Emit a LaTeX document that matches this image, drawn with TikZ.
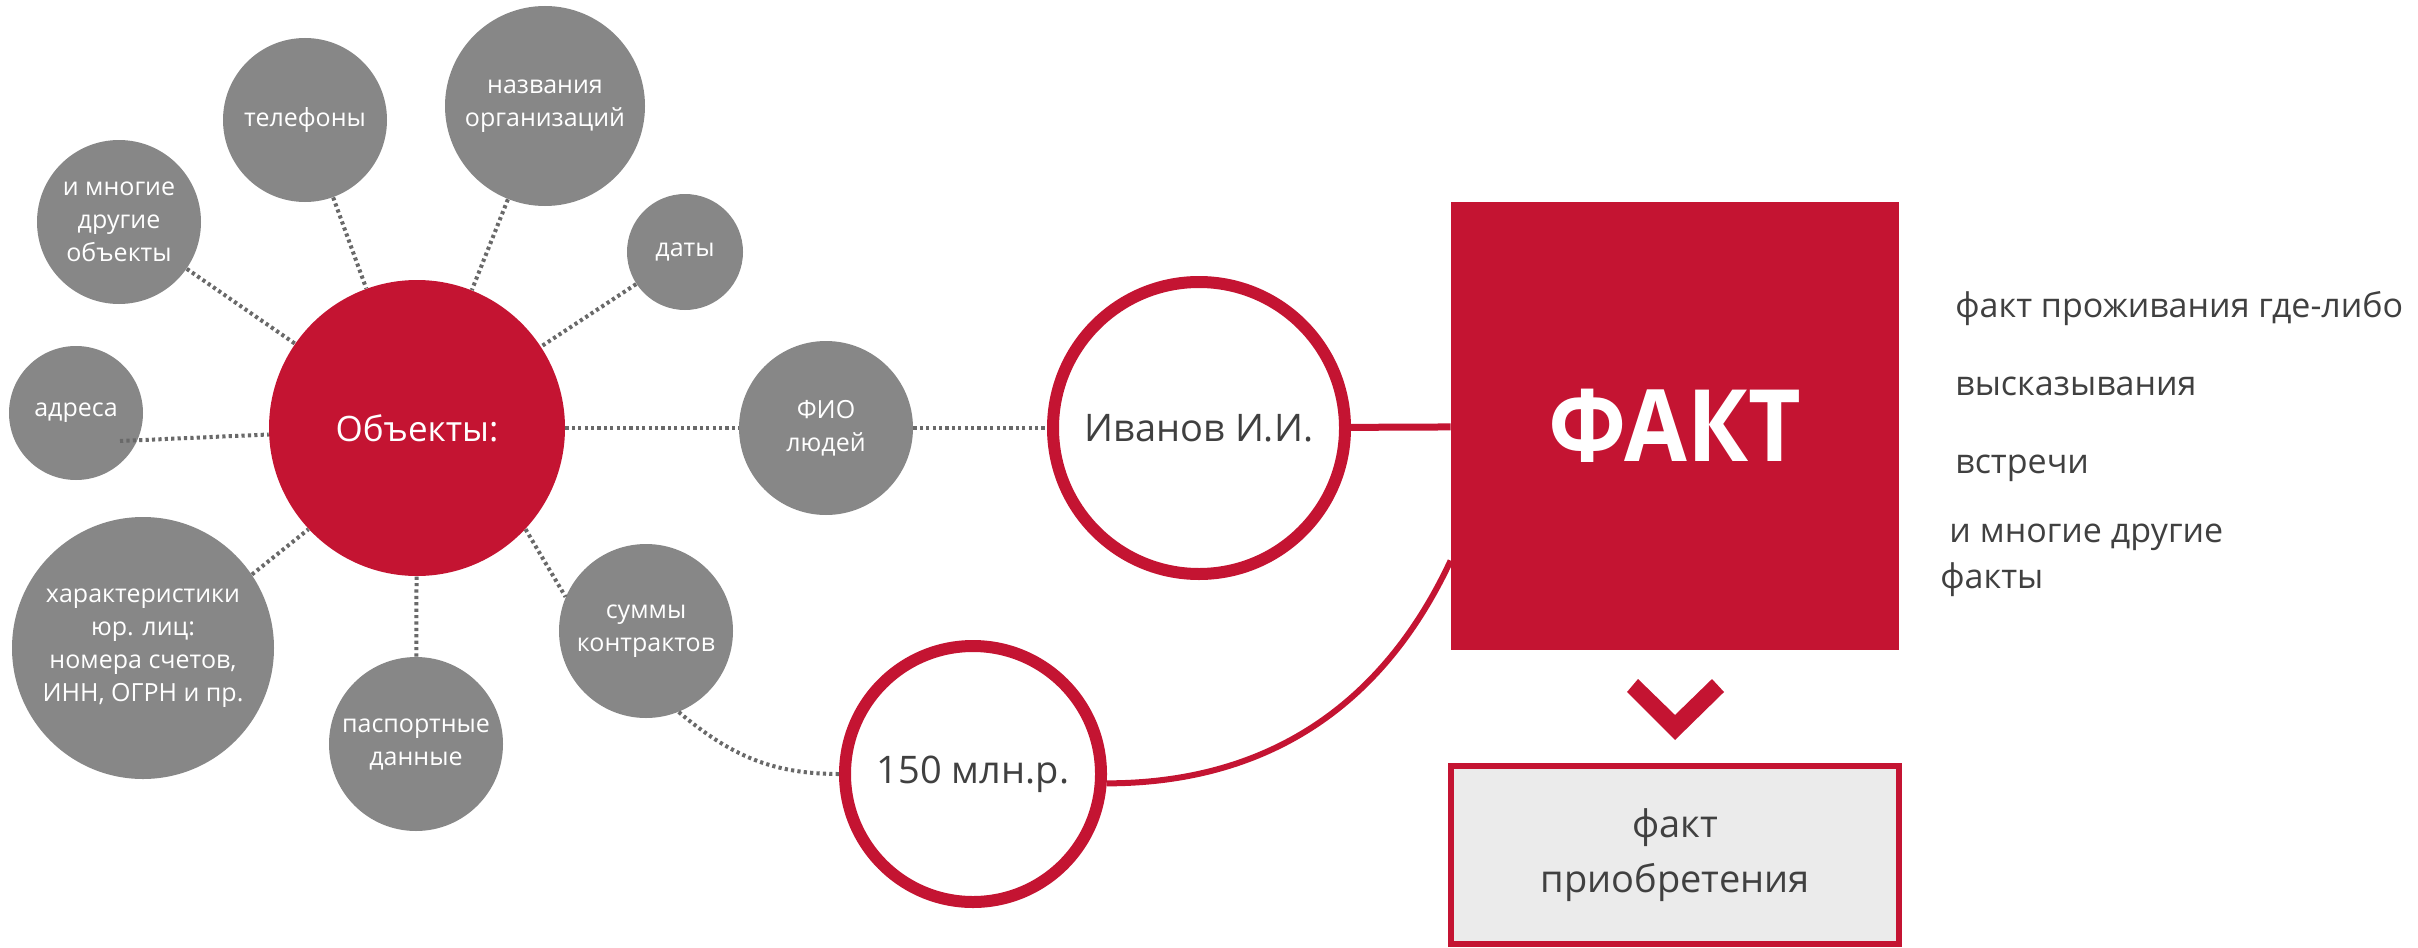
\documentclass[tikz,border=0pt]{standalone}
\usepackage{fontspec}
\setmainfont{Open Sans}
\newfontfamily\factfont[FakeStretch=0.91]{Open Sans}
\usetikzlibrary{calc}
\definecolor{fred}{RGB}{196,20,50}
\definecolor{cgray}{RGB}{135,135,135}
\definecolor{dgray}{RGB}{105,105,105}
\definecolor{tgray}{RGB}{64,64,64}
\definecolor{boxfill}{RGB}{235,235,235}
\begin{document}
\begin{tikzpicture}[x=0.5pt,y=-0.5pt,
  gcirc/.style={circle, fill=cgray, text=white, align=center, inner sep=0pt, font=\fontsize{12.5}{16.5}\selectfont},
  ring/.style={circle, draw=fred, line width=6pt, fill=white, text=tgray, inner sep=0pt, font=\fontsize{19}{24}\selectfont},
  dotline/.style={draw=dgray, line width=2pt, dash pattern=on 1.6pt off 1.6pt},
  redline/.style={draw=fred, line width=3.5pt},
  facttext/.style={anchor=base west, text=tgray, font=\fontsize{17}{23}\selectfont, inner sep=0pt},
]
\useasboundingbox (0,0) rectangle (2418,947);

\node[gcirc, minimum size=82pt] (tel) at (305,120) {телефоны};
\node[gcirc, minimum size=100pt] (org) at (545,106) {названия\\организаций};
\node[gcirc, minimum size=82pt] (many) at (119,222) {и многие\\другие\\объекты};
\node[gcirc, minimum size=58pt] (dates) at (685,252) {даты};
\node[gcirc, minimum size=67pt] (addr) at (76,413) {адреса};
\node[circle, fill=fred, text=white, minimum size=148pt, inner sep=0pt, font=\fontsize{17.5}{21}\selectfont] (obj) at (417,428) {Объекты:};
\node[gcirc, minimum size=131pt] (char) at (143,648) {характеристики\\юр. лиц:\\номера счетов,\\ИНН, ОГРН и пр.};
\node[gcirc, minimum size=87pt] (pass) at (416,744) {паспортные\\данные};
\node[gcirc, minimum size=87pt] (sums) at (646,631) {суммы\\контрактов};
\node[gcirc, minimum size=87pt] (fio) at (826,428) {ФИО\\людей};

\node[ring, minimum size=146pt] (ivan) at (1199,428) {Иванов И.И.};
\node[ring, minimum size=128pt] (mln) at (973,774) {150 млн.р.};

\node[rectangle, fill=fred, minimum size=224pt, inner sep=0pt, text=white, font=\factfont\bfseries\fontsize{50}{60}\selectfont] (fact) at (1675,426) {ФАКТ};
\node[rectangle, draw=fred, line width=3pt, fill=boxfill, minimum width=224pt, minimum height=89pt, text=tgray, align=center, font=\fontsize{19}{27.5}\selectfont] (buy) at (1675,855) {факт\\приобретения};

\fill[fred] (1627,692) -- (1638,679) -- (1675,715) -- (1712,679) -- (1724,692) -- (1675,740) -- cycle;

\draw[dotline] (tel) -- (obj);
\draw[dotline] (org) -- (obj);
\draw[dotline] (many) -- (obj);
\draw[dotline] (dates) -- (obj);
\coordinate (addrend) at (120,441);
\draw[dotline] (addrend) -- (obj);
\draw[dotline] (char.34) -- (obj.223);
\draw[dotline] (pass) -- (obj);
\draw[dotline] (obj.-43) -- (sums.157);
\draw[dotline] (obj) -- (fio);
\draw[dotline] (fio) -- (ivan);
\draw[dotline] (sums.-68) to[out=-40,in=180] (mln);

\draw[redline] (ivan) -- (fact);
\coordinate (curveend) at ($(fact.south west)!0.2!(fact.north west)$);
\draw[fred, line width=3pt] (mln.-4) to[out=0,in=-115] (curveend);

\node[facttext] (f1) at (1955,317) {факт проживания где-либо};
\node[facttext] (f2) at (1955,395) {высказывания};
\node[facttext] (f3) at (1955,473) {встречи};
\node[facttext] (f4) at (1949,542) {и многие другие};
\node[facttext] (f5) at (1940,588) {факты};
\end{tikzpicture}
\end{document}
